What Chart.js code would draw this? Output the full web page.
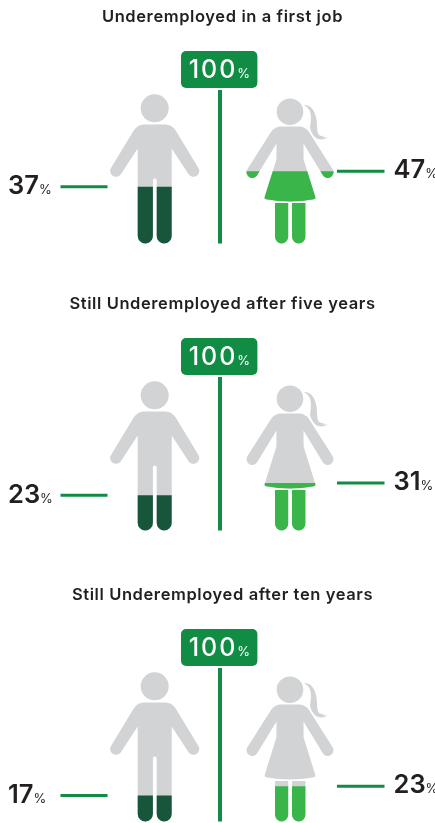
<!DOCTYPE html>
<html>
<head>
<meta charset="utf-8">
<title>Underemployment by gender</title>
<script src="https://cdn.jsdelivr.net/npm/chart.js@4"></script>
<style>
  html, body { margin: 0; padding: 0; background: #fff; overflow: hidden; }
  #wrap { position: relative; width: 435px; height: 823px; }
  canvas { position: absolute; left: 0; }
</style>
</head>
<body>
<div id="wrap"></div>
<script>
// Share of graduates underemployed, by stage of career
const stages = [
  'Underemployed in a first job',
  'Still Underemployed after five years',
  'Still Underemployed after ten years'
];
const men = [37, 23, 17];
const women = [47, 31, 23];
const fullScale = 100;

const GREY = '#d1d3d4', INK = '#231f20', GREEN = '#118c44', DARK = '#17563a', LIGHT = '#39b54a';
const FONT = 'Inter, sans-serif';
const panelTops = [0, 286.5, 578];
const CANVAS_H = 245, AREA_TOP = 90, AREA_BOTTOM = 243.5;

// Silhouettes are drawn relative to the foot line (y = 0) and figure axis (x = 0)
const manBody = new Path2D(
  'M-11,-119 L11,-119 Q17,-119 21,-113 L43.4,-76 A5.5,5.5 0 0 1 34,-69 L17,-95 ' +
  'L17,-7.5 A7.5,7.5 0 0 1 2,-7.5 L2,-63 A1.9,1.9 0 0 0 -1.8,-63 L-1.8,-7.5 A7.5,7.5 0 0 1 -17,-7.5 L-17,-95 ' +
  'L-34,-69 A5.5,5.5 0 0 1 -43.4,-76 L-21,-113 Q-17,-119 -11,-119 Z'
);
manBody.moveTo(14, -135.2);
manBody.arc(0, -135.2, 14, 0, Math.PI * 2);

const womanBody = new Path2D(
  'M-9,-117 L9,-117 Q15,-117 19,-111.5 L42.5,-74.5 A5.4,5.4 0 0 1 33,-68 L13.5,-100 ' +
  'L13.6,-84 L25.2,-47 Q26,-44.8 24,-44.2 Q0,-39.8 -24,-44.2 Q-26,-44.8 -25.2,-47 L-13.6,-84 L-13.5,-100 ' +
  'L-33,-68 A5.4,5.4 0 0 1 -42.5,-74.5 L-19,-111.5 Q-15,-117 -9,-117 Z ' +
  // legs
  'M-15,-40.5 L-1.8,-40.5 L-1.8,-6.7 A6.6,6.6 0 0 1 -15,-6.7 Z ' +
  'M2,-40.5 L15.4,-40.5 L15.4,-6.7 A6.7,6.7 0 0 1 2,-6.7 Z ' +
  // ponytail
  'M14,-138.5 C20,-139 25,-134 26.5,-124 C27.5,-117 26.5,-112 29,-108.5 ' +
  'C31,-107 34.5,-107 36.5,-109 C35,-107.5 33.5,-107 32,-106.5 C34,-106 36,-106 37.5,-106.5 ' +
  'C35,-104 31,-103.5 28,-104.5 C24,-106 21,-111 20,-116 C21,-122 21.5,-128 20,-132 C19,-135 16.5,-137 14,-138.5 Z'
);
womanBody.moveTo(13.3, -131.8);
womanBody.arc(0, -131.8, 13.3, 0, Math.PI * 2);

const MAN_X = 154.7, WOMAN_X = 290;

// Paints both figures grey, then repaints everything under each value level in colour
const figures = {
  id: 'figures',
  beforeDraw(chart) {
    chart.ctx.letterSpacing = '0.6px';
  },
  beforeDatasetsDraw(chart, args, opts) {
    const { ctx, scales: { x, y } } = chart;
    const base = y.getPixelForValue(0);
    [[manBody, MAN_X, opts.man, DARK], [womanBody, WOMAN_X, opts.woman, LIGHT]].forEach(([shape, cx, value, colour]) => {
      const px = x.getPixelForValue(cx);
      ctx.save();
      ctx.translate(px, base);
      ctx.fillStyle = GREY;
      ctx.fill(shape);
      ctx.restore();
      ctx.save();
      ctx.beginPath();
      ctx.rect(0, y.getPixelForValue(value), chart.width, chart.height);
      ctx.clip();
      ctx.translate(px, base);
      ctx.fillStyle = colour;
      ctx.fill(shape);
      ctx.restore();
    });
  }
};

// Writes a number followed by a small percent sign
function percent(ctx, value, left, baseline, size, tracking, pctSize, colour, weight) {
  ctx.fillStyle = colour;
  ctx.textAlign = 'left';
  ctx.textBaseline = 'alphabetic';
  ctx.font = weight + ' ' + size + 'px ' + FONT;
  ctx.letterSpacing = tracking + 'px';
  const text = String(value);
  ctx.fillText(text, left, baseline);
  const w = ctx.measureText(text).width;
  ctx.letterSpacing = '0px';
  ctx.font = '400 ' + pctSize + 'px ' + FONT;
  ctx.fillText('%', left + w, baseline);
}

// The 100% flag on the centre post and the value labels beside the leader lines
const annotations = {
  id: 'annotations',
  afterDatasetsDraw(chart, args, opts) {
    const { ctx, scales: { x, y } } = chart;
    const top = y.getPixelForValue(fullScale);
    const cx = x.getPixelForValue(219.2);
    ctx.save();
    ctx.fillStyle = GREEN;
    ctx.beginPath();
    ctx.roundRect(cx - 38.2, top - 39, 76.4, 37, 5);
    ctx.fill();
    percent(ctx, fullScale, cx - 30.5, top - 11.7, 25, 2, 13, '#fff', '500');
    percent(ctx, opts.man, x.getPixelForValue(8), y.getPixelForValue(opts.man) + 7.5, 25.5, 0, 13, INK, '600');
    percent(ctx, opts.woman, x.getPixelForValue(393.5), y.getPixelForValue(opts.woman) + 7, 25.5, 0, 13, INK, '600');
    ctx.restore();
  }
};

stages.forEach((stage, i) => {
  const canvas = document.createElement('canvas');
  canvas.style.top = panelTops[i] + 'px';
  canvas.width = 435;
  canvas.height = CANVAS_H;
  canvas.style.width = '435px';
  canvas.style.height = CANVAS_H + 'px';
  document.getElementById('wrap').appendChild(canvas);

  const lineStyle = { showLine: true, pointRadius: 0, borderColor: GREEN, borderCapStyle: 'butt', clip: false };
  new Chart(canvas, {
    type: 'scatter',
    data: {
      datasets: [
        { ...lineStyle, label: 'Total', borderWidth: 4, data: [{ x: 220, y: 0 }, { x: 220, y: fullScale }] },
        { ...lineStyle, label: 'Men', borderWidth: 3, data: [{ x: 60.5, y: men[i] }, { x: 107.5, y: men[i] }] },
        { ...lineStyle, label: 'Women', borderWidth: 3, data: [{ x: 337, y: women[i] }, { x: 384.5, y: women[i] }] }
      ]
    },
    plugins: [figures, annotations],
    options: {
      responsive: false,
      animation: false,
      events: [],
      layout: { padding: { left: 10, right: 0, top: 0, bottom: CANVAS_H - AREA_BOTTOM } },
      scales: {
        x: { type: 'linear', min: 10, max: 435, display: false },
        y: { type: 'linear', min: 0, max: fullScale, display: false }
      },
      plugins: {
        legend: { display: false },
        tooltip: { enabled: false },
        title: {
          display: true,
          fullSize: false,
          text: stage,
          color: INK,
          font: { family: FONT, size: 16.5, weight: '600', lineHeight: 1.2 },
          padding: { top: 7, bottom: AREA_TOP - 7 - 19.8 }
        },
        figures: { man: men[i], woman: women[i] },
        annotations: { man: men[i], woman: women[i] }
      }
    }
  });
});
</script>
</body>
</html>
